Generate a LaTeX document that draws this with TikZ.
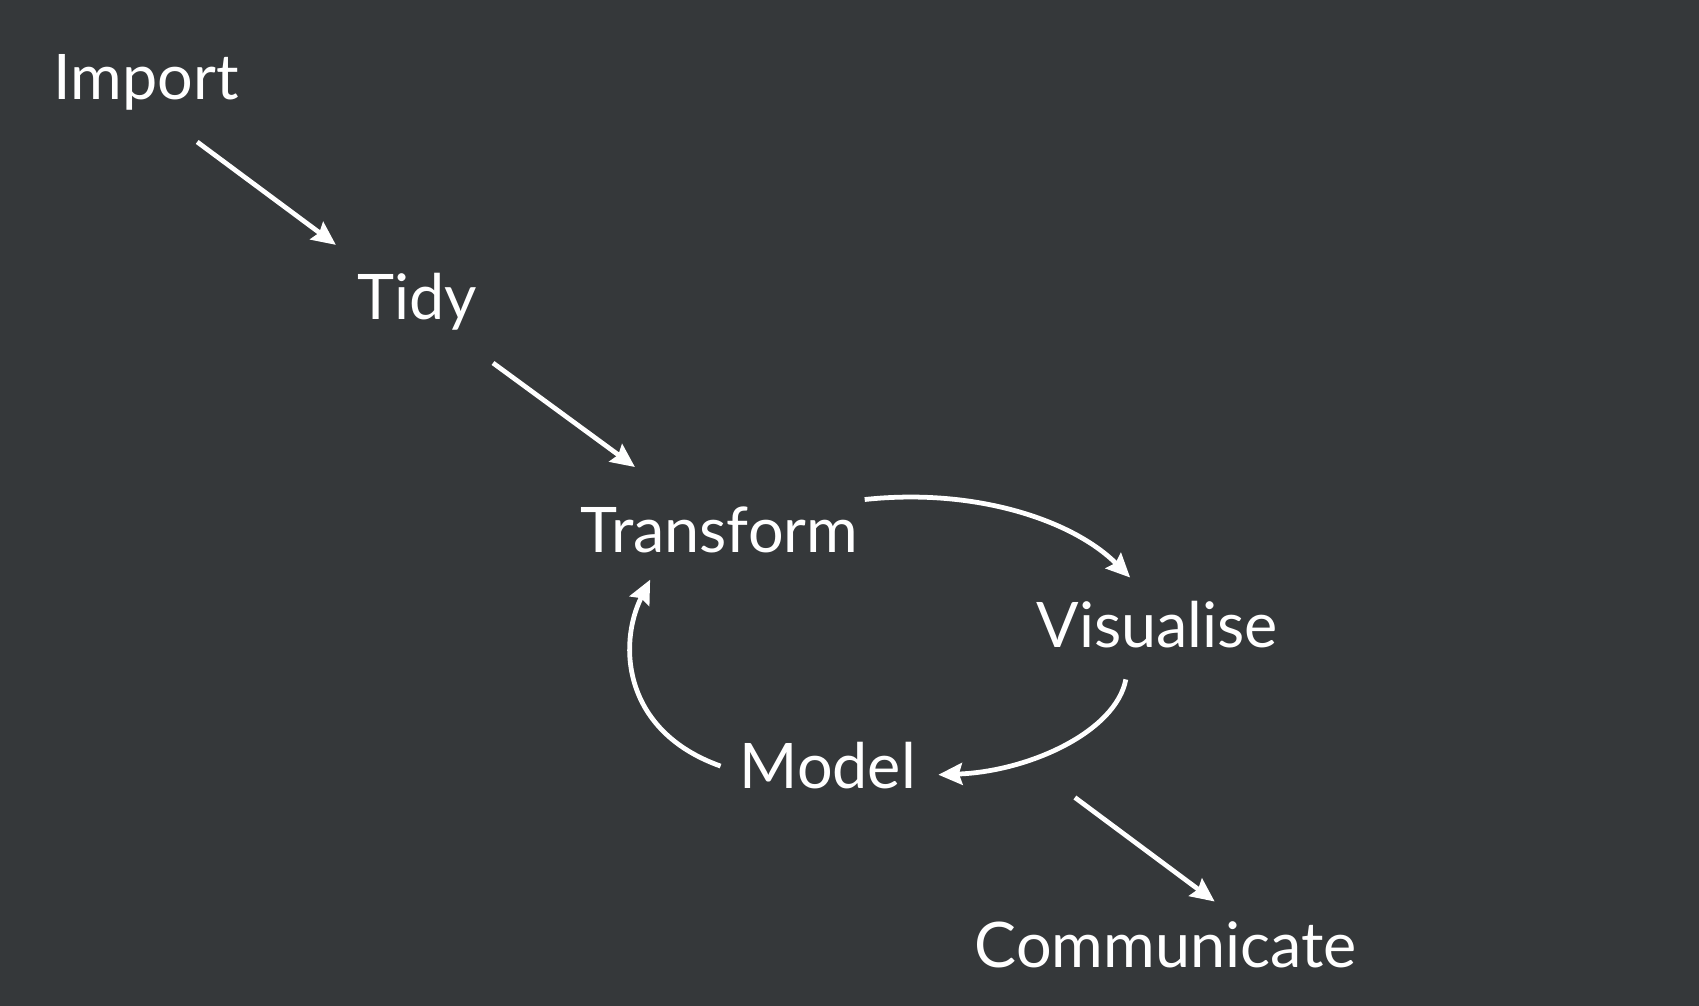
\documentclass[tikz,border=0pt]{standalone}
\usepackage{fontspec}
\setmainfont{Lato}
\usetikzlibrary{arrows.meta}
\definecolor{bgdark}{RGB}{53,56,58}
\tikzset{
  lbl/.style={text=white, font=\fontsize{29}{35}\selectfont, anchor=base, inner sep=0pt},
  arr/.style={draw=white, line width=2.2pt, -{Stealth[length=11pt,width=10pt,inset=1.5pt]}}
}
\begin{document}
\begin{tikzpicture}[x=0.5pt,y=-0.5pt]
\fill[bgdark] (0,0) rectangle (1568,928);
\useasboundingbox (0,0) rectangle (1568,928);
\node[lbl] (import) at (135,92) {Import};
\node[lbl] (tidy) at (385,295) {Tidy};
\node[lbl] (transform) at (664,510) {Transform};
\node[lbl] (visualise) at (1068,598) {Visualise};
\node[lbl] (model) at (764,728) {Model};
\node[lbl] (communicate) at (1076,893) {Communicate};
\draw[arr] ([shift={(47,39)}]import.base) -- ([shift={(-75,-69)}]tidy.base);
\draw[arr] ([shift={(70,40)}]tidy.base) -- ([shift={(-78,-79)}]transform.base);
\draw[arr] ([shift={(134,-49)}]transform.base) .. controls +(102,-11) and +(-53,-53) .. ([shift={(-25,-65)}]visualise.base);
\draw[arr] ([shift={(-29,29)}]visualise.base) .. controls +(-9,48) and +(84,-3) .. ([shift={(102,-13)}]model.base);
\draw[arr] ([shift={(-99,-21)}]model.base) .. controls +(-90,-32) and +(-30,60) .. ([shift={(-64,25)}]transform.base);
\draw[arr] ([shift={(-76,138)}]visualise.base) -- ([shift={(45,-61)}]communicate.base);
\end{tikzpicture}
\end{document}
